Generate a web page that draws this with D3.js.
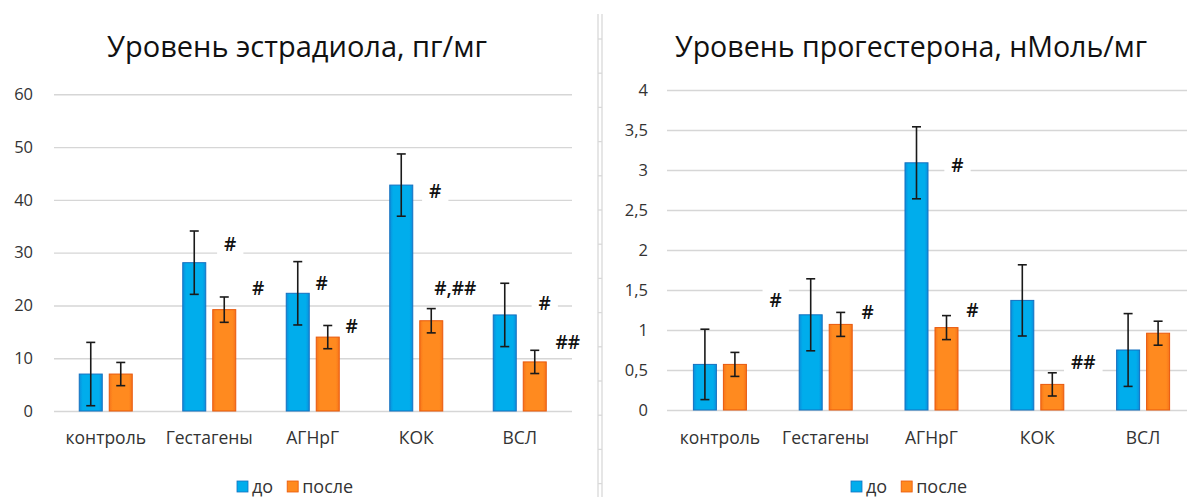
<!DOCTYPE html>
<html><head><meta charset="utf-8">
<script src="https://cdn.jsdelivr.net/npm/d3@7"></script>
<style>body{margin:0;background:#fff} svg{display:block;font-family:"Open Sans",sans-serif}</style>
</head><body><svg id="c" width="1187" height="497"></svg>
<script>
// ---- data ----
const categories = ["контроль","Гестагены","АГНрГ","КОК","ВСЛ"];
const seriesNames = ["до","после"];
const estrBefore    = [7.0, 28.1, 22.3, 42.8, 18.2];
const estrBeforeErr = [6.0, 6.0, 6.0, 5.9, 6.0];
const estrAfter     = [7.0, 19.2, 14.0, 17.1, 9.3];
const estrAfterErr  = [2.2, 2.4, 2.2, 2.3, 2.2];
const progBefore    = [0.57, 1.19, 3.09, 1.37, 0.75];
const progBeforeErr = [0.44, 0.45, 0.45, 0.445, 0.455];
const progAfter     = [0.57, 1.07, 1.03, 0.32, 0.96];
const progAfterErr  = [0.15, 0.15, 0.15, 0.145, 0.15];
const estrTicks = [0,10,20,30,40,50,60];
const progTicks = [0,0.5,1,1.5,2,2.5,3,3.5,4];
const estrNotesBefore = ["","#","#","#","#"];
const estrNotesAfter  = ["","#","#","#,##","##"];
const progNotesBefore = ["","#","#","",""];
const progNotesAfter  = ["","#","#","##",""];
const titles = ["Уровень эстрадиола, пг/мг","Уровень прогестерона, нМоль/мг"];

// ---- layout (not data) ----
const noteLayoutEstr = {
  before: [[0,0],[36,31.6],[24,24.2],[34,41.7],[40,20.3]],
  after:  [[0,0],[34,23.3],[24,16.1],[24,23.3],[33,13.1]]
};
const noteLayoutProg = {
  before: [[0,0],[-35,1.375],[41,3.06],[0,0],[0,0]],
  after:  [[0,0],[27,1.225],[26,1.24],[31,0.59],[0,0]]
};

const svg = d3.select("#c");
const BLUE = "#00adec", BLUE_E = "#1570c0", ORANGE = "#ff8a1f", ORANGE_E = "#e8580c";
const defs = svg.append("defs");
function grad(id, edge, mid){
  const g = defs.append("linearGradient").attr("id", id).attr("x1","0").attr("x2","1").attr("y1","0").attr("y2","0");
  g.append("stop").attr("offset","0").attr("stop-color", edge);
  g.append("stop").attr("offset","0.15").attr("stop-color", mid);
  g.append("stop").attr("offset","0.85").attr("stop-color", mid);
  g.append("stop").attr("offset","1").attr("stop-color", edge);
}
grad("gb", "#0a8fdc", BLUE);
grad("go", "#f7741a", ORANGE);
const fills = ["url(#gb)","url(#go)"], strokes = [BLUE_E, ORANGE_E];

const commaFmt = d3.formatLocale({decimal: ",", thousands: " ", grouping: [3], currency: ["",""]}).format("~g");

// separator (spreadsheet cell border)
const sep = svg.append("g").attr("stroke","#d9d9d9").attr("stroke-width",1.3);
sep.append("line").attr("x1",598).attr("x2",598).attr("y1",14).attr("y2",497);
sep.append("line").attr("x1",602).attr("x2",602).attr("y1",14).attr("y2",497);
d3.range(39, 497, 34.2).forEach(y => sep.append("line").attr("x1",598).attr("x2",602).attr("y1",y).attr("y2",y));

function fitText(sel, target){
  const w = sel.node().getComputedTextLength();
  const fs = parseFloat(sel.attr("font-size"));
  sel.attr("font-size", (fs*target/w).toFixed(2));
}

function drawChart(cfg){
  const g = svg.append("g");
  const x = d3.scaleBand().domain(categories).range([cfg.x0, cfg.x1]);
  const xs = d3.scaleBand().domain(seriesNames).range([-30, 30]);
  const barW = 23;
  const y = d3.scaleLinear().domain(cfg.domain).range([cfg.y0, cfg.y1]);

  // gridlines + tick labels
  const ax = d3.axisLeft(y).tickValues(cfg.ticks).tickSize(-(cfg.gridEnd - cfg.x0)).tickPadding(cfg.pad).tickFormat(cfg.fmt);
  const ag = g.append("g").attr("transform", `translate(${cfg.x0},0)`).call(ax);
  ag.select(".domain").remove();
  ag.selectAll(".tick line").attr("stroke","#d6d6d6").attr("stroke-width",1.4);
  ag.selectAll(".tick text").attr("fill","#333").attr("font-size",16.5).attr("font-family","Open Sans, sans-serif");

  // title
  const t = g.append("text").text(cfg.title).attr("x", cfg.titleX).attr("y", 57)
    .attr("text-anchor","middle").attr("font-size",26).attr("fill","#111");
  fitText(t, cfg.titleW);

  // category labels
  g.selectAll(".cat").data(categories).join("text")
    .attr("x", d => x(d) + x.bandwidth()/2).attr("y", 444)
    .attr("text-anchor","middle").attr("font-size",17.5).attr("fill","#333").text(d => d);

  const series = [cfg.before, cfg.after];
  const errs = [cfg.beforeErr, cfg.afterErr];
  const barCx = (i, s) => x(categories[i]) + x.bandwidth()/2 + xs(seriesNames[s]) + xs.bandwidth()/2;

  // annotations with white boxes (drawn before bars)
  const notes = [cfg.notesBefore, cfg.notesAfter];
  const lay = [cfg.noteLayout.before, cfg.noteLayout.after];
  notes.forEach((arr, s) => arr.forEach((txt, i) => {
    if (!txt) return;
    const cx = barCx(i, s) + lay[s][i][0], cy = y(lay[s][i][1]);
    const tg = g.append("g");
    const tt = tg.append("text").attr("x", cx).attr("y", cy).attr("dy","0.35em")
      .attr("text-anchor","middle").attr("font-size",19).attr("font-weight",600)
      .attr("fill","#111").text(txt);
    const bb = tt.node().getBBox();
    tg.insert("rect","text").attr("x", bb.x-7).attr("y", cy-11).attr("width", bb.width+14).attr("height", 22).attr("fill","#fff");
  }));

  series.forEach((vals, s) => {
    g.selectAll(".bar"+s).data(vals).join("rect")
      .attr("x", (d,i) => barCx(i,s) - barW/2)
      .attr("y", d => y(d))
      .attr("width", barW)
      .attr("height", d => y(0) - y(d))
      .attr("fill", fills[s]).attr("stroke", strokes[s]).attr("stroke-width",1);
    // error bars
    const eg = g.append("g").attr("stroke","#1a1a1a").attr("stroke-width",1.6);
    vals.forEach((v, i) => {
      const cx = barCx(i, s), e = errs[s][i];
      eg.append("line").attr("x1",cx).attr("x2",cx).attr("y1",y(v+e)).attr("y2",y(v-e));
      eg.append("line").attr("x1",cx-4.5).attr("x2",cx+4.5).attr("y1",y(v+e)).attr("y2",y(v+e));
      eg.append("line").attr("x1",cx-4.5).attr("x2",cx+4.5).attr("y1",y(v-e)).attr("y2",y(v-e));
    });
  });

  // legend
  const lg = g.append("g").attr("transform", `translate(${cfg.legendX},487)`);
  let lx = 0;
  seriesNames.forEach((n, s) => {
    lg.append("rect").attr("x", lx).attr("y", -6).attr("width",11).attr("height",11)
      .attr("fill", s ? ORANGE : BLUE).attr("stroke", strokes[s]).attr("stroke-width",0.8);
    const tx = lg.append("text").attr("x", lx + 15).attr("y", 0).attr("dy","0.32em")
      .attr("font-size",18).attr("fill","#333").text(n);
    lx += 15 + tx.node().getComputedTextLength() + 14;
  });
}

drawChart({
  x0: 54, x1: 571.5, gridEnd: 572, y0: 411, y1: 94.3, domain: [0, 60], ticks: estrTicks, pad: 21,
  fmt: d3.format("d"), title: titles[0], titleX: 297, titleW: 380,
  before: estrBefore, after: estrAfter, beforeErr: estrBeforeErr, afterErr: estrAfterErr,
  notesBefore: estrNotesBefore, notesAfter: estrNotesAfter, noteLayout: noteLayoutEstr, legendX: 237
});
drawChart({
  x0: 667, x1: 1196, gridEnd: 1190, y0: 410, y1: 90, domain: [0, 4], ticks: progTicks, pad: 19,
  fmt: commaFmt, title: titles[1], titleX: 911, titleW: 472,
  before: progBefore, after: progAfter, beforeErr: progBeforeErr, afterErr: progAfterErr,
  notesBefore: progNotesBefore, notesAfter: progNotesAfter, noteLayout: noteLayoutProg, legendX: 851
});
</script></body></html>
